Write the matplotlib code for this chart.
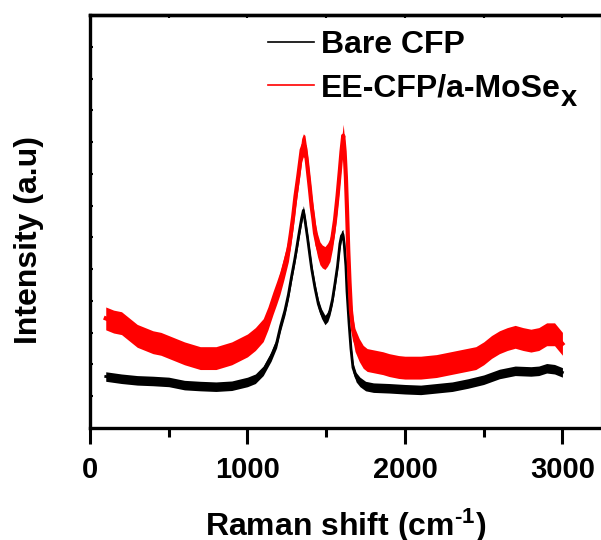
import matplotlib
matplotlib.use("Agg")
import matplotlib.pyplot as plt
import numpy as np

plt.rcParams["font.family"] = ["Liberation Sans", "DejaVu Sans"]
plt.rcParams["font.weight"] = "bold"
plt.rcParams["mathtext.fontset"] = "custom"
plt.rcParams["mathtext.rm"] = "Liberation Sans:bold"
plt.rcParams["mathtext.bf"] = "Liberation Sans:bold"
plt.rcParams["mathtext.it"] = "Liberation Sans:bold"

# Raman spectra (Raman shift in cm^-1, intensity in arbitrary units)
bare_shift = [100, 200, 300, 400, 500, 600, 700, 800, 900, 1000, 1050, 1100, 1150,
              1185, 1210, 1238, 1260, 1280, 1300, 1312, 1330, 1344, 1355, 1365, 1381,
              1397, 1408, 1429, 1450, 1470, 1492, 1510, 1524, 1540, 1556, 1572, 1587,
              1597, 1606, 1614, 1625, 1632, 1645, 1657, 1670, 1690, 1714, 1750, 1800,
              1900, 2000, 2100, 2200, 2300, 2400, 2500, 2600, 2700, 2800, 2850, 2900,
              2950, 3000]
bare_int = [1.62, 1.55, 1.50, 1.48, 1.45, 1.35, 1.32, 1.30, 1.33, 1.45, 1.55, 1.80, 2.25,
            2.67, 3.20, 3.70, 4.20, 4.77, 5.30, 5.65, 6.20, 6.60, 6.85, 6.55, 6.00,
            5.40, 5.00, 4.40, 3.90, 3.60, 3.40, 3.50, 3.70, 4.05, 4.56, 5.10, 5.80,
            6.05, 6.10, 5.80, 5.10, 4.30, 3.30, 2.50, 1.90, 1.60, 1.45, 1.32, 1.27,
            1.25, 1.22, 1.20, 1.25, 1.30, 1.40, 1.52, 1.70, 1.80, 1.78, 1.80, 1.88,
            1.85, 1.75]
bare_noise = 0.15

mose_shift = [100, 150, 200, 250, 300, 350, 400, 450, 500, 600, 700, 800, 900, 1000,
              1050, 1100, 1130, 1162, 1185, 1206, 1230, 1260, 1275, 1290, 1305, 1322,
              1335, 1344, 1355, 1365, 1375, 1386, 1397, 1408, 1418, 1429, 1445, 1460,
              1475, 1492, 1508, 1524, 1540, 1556, 1572, 1587, 1597, 1608, 1617, 1625,
              1632, 1640, 1648, 1657, 1670, 1683, 1710, 1735, 1760, 1800, 1860, 1900,
              1960, 2000, 2100, 2200, 2300, 2400, 2450, 2500, 2550, 2600, 2650, 2700,
              2750, 2800, 2850, 2900, 2950, 3000]
mose_int = [3.45, 3.35, 3.30, 3.10, 2.90, 2.80, 2.70, 2.65, 2.55, 2.35, 2.20, 2.20, 2.35,
            2.60, 2.80, 3.08, 3.45, 3.93, 4.25, 4.56, 5.00, 5.60, 6.10, 6.65, 7.30, 7.90,
            8.40, 8.75, 8.90, 8.85, 8.50, 8.00, 7.50, 6.96, 6.60, 6.13, 5.75, 5.50,
            5.40, 5.35, 5.45, 5.60, 6.00, 6.55, 7.30, 8.12, 8.70, 9.20, 8.70, 7.90,
            6.90, 5.60, 4.60, 3.70, 3.10, 2.77, 2.45, 2.24, 2.14, 2.10, 2.04, 1.98,
            1.92, 1.90, 1.90, 1.95, 2.05, 2.15, 2.20, 2.35, 2.55, 2.70, 2.80, 2.87,
            2.80, 2.75, 2.80, 2.95, 2.95, 2.65]
mose_noise = 0.36

labels = ["Bare CFP", "EE-CFP/a-MoSe"]
label_subscripts = ["", "x"]
colors = ["black", "#ff0000"]
line_widths = [2.0, 3.0]
x_ticks = [0, 1000, 2000, 3000]

fig = plt.figure(figsize=(6.01, 5.40), dpi=100)
ax = fig.add_axes([90 / 601, 1 - 428 / 540, 511 / 601, 413 / 540])

series = [(bare_shift, bare_int, bare_noise), (mose_shift, mose_int, mose_noise)]
for (xs, ys, noise), lab, col, lw in zip(series, labels, colors, line_widths):
    xs = np.asarray(xs, float)
    ys = np.asarray(ys, float)
    ax.fill_between(xs, ys - noise, ys + noise, color=col, lw=0, zorder=2)
    ax.plot(xs, ys, color=col, lw=lw, label=lab, zorder=3)

ax.set_xlim(0, 3245)
ax.set_ylim(0, 13)
ax.set_xticks(x_ticks)
ax.set_xticks(np.arange(500, 3001, 1000), minor=True)
ax.set_yticks(np.arange(1, 13))
ax.set_yticklabels([])

ax.tick_params(axis="x", which="major", direction="out", length=11.5, width=2.2,
               labelsize=21, pad=9)
ax.tick_params(axis="x", which="minor", direction="out", length=6.5, width=2.2)
ax.tick_params(axis="y", which="major", direction="in", length=2.5, width=1.5)

for side in ("left", "bottom", "top"):
    ax.spines[side].set_linewidth(2.4)
ax.spines["right"].set_linewidth(1.0)
ax.spines["right"].set_color("#c8c8c8")

top = ax.secondary_xaxis("top")
top.set_xticks(np.arange(0, 3001, 500))
top.tick_params(direction="in", length=2.5, width=1.5, labeltop=False)
top.spines["top"].set_linewidth(2.4)

ax.set_xlabel("Raman shift (cm$^{\\text{-1}}$)", fontsize=23, fontweight="bold",
              labelpad=16)
ax.set_ylabel("Intensity (a.u)", fontsize=23, fontweight="bold")
ax.yaxis.set_label_coords(-0.09, 0.455)

leg = ax.legend(loc="upper left", bbox_to_anchor=(268 / 601, 1 - 30 / 540),
                bbox_transform=fig.transFigure, frameon=False, fontsize=23,
                handlelength=1.45, handletextpad=0.2, labelspacing=0.42,
                borderaxespad=0, borderpad=0)
for h in leg.get_lines():
    h.set_linewidth(1.2)

# full-size lowered subscript after the legend label
fig.canvas.draw()
renderer = fig.canvas.get_renderer()
for txt, sub in zip(leg.get_texts(), label_subscripts):
    if sub:
        bb = txt.get_window_extent(renderer)
        fig.text(bb.x1 / fig.bbox.width + 0.001, (bb.y0 - 9) / fig.bbox.height, sub,
                 fontsize=21, fontweight="bold", ha="left", va="bottom")

fig.savefig("out.png", dpi=100)
